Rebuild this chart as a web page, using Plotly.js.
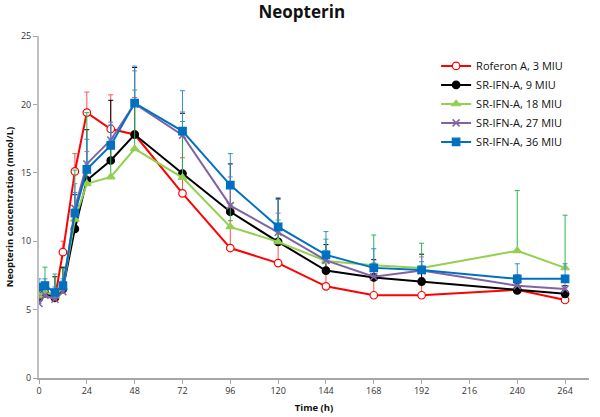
<!DOCTYPE html>
<html>
<head>
<meta charset="utf-8">
<script src="https://cdn.plot.ly/plotly-3.0.1.min.js"></script>
<style>html,body{margin:0;padding:0;background:#fff;}#chart{width:600px;height:417px;}</style>
</head>
<body>
<div id="chart"></div>
<script>
const times = [0, 3, 8, 12, 18, 24, 36, 48, 72, 96, 120, 144, 168, 192, 240, 264];
const seriesNames = ["Roferon A, 3 MIU", "SR-IFN-A, 9 MIU", "SR-IFN-A, 18 MIU", "SR-IFN-A, 27 MIU", "SR-IFN-A, 36 MIU"];

const roferon3 = [6.0, 6.2, 5.85, 9.2, 15.1, 19.4, 18.2, 17.8, 13.5, 9.5, 8.4, 6.7, 6.05, 6.05, 6.45, 5.7];
const sr9 = [5.9, 6.2, 5.9, 6.5, 10.9, 14.45, 15.9, 17.8, 14.95, 12.15, 9.95, 7.85, 7.35, 7.05, 6.4, 6.15];
const sr18 = [6.0, 6.3, 6.0, 6.6, 11.6, 14.2, 14.7, 16.75, 14.65, 11.05, 9.95, 8.55, 8.25, 8.05, 9.3, 8.05];
const sr27 = [5.45, 6.05, 5.75, 6.3, 12.4, 15.65, 17.4, 20.05, 17.75, 12.6, 10.65, 8.6, 7.4, 7.85, 6.75, 6.5];
const sr36 = [6.65, 6.75, 6.25, 6.75, 12.05, 15.25, 17.0, 20.1, 18.05, 14.1, 11.05, 9.0, 8.05, 7.9, 7.25, 7.25];

const roferon3Err = [0.4, 0.5, 0.6, 0.8, 1.3, 1.5, 2.5, 2.7, 2.6, 2.0, 1.6, 1.0, 1.3, 1.3, 1.1, 0.6];
const sr9Err = [0.5, 0.8, 1.5, 1.6, 2.5, 3.7, 4.4, 4.9, 4.4, 3.5, 3.2, 1.9, 1.3, 2.0, 0.5, 0.6];
const sr18Err = [0.8, 1.8, 1.6, 1.4, 3.6, 5.2, 2.5, 4.3, 4.1, 1.7, 1.6, 1.6, 2.2, 1.8, 4.4, 3.85];
const sr27Err = [0.6, 0.6, 0.6, 0.8, 1.8, 0.9, 1.3, 2.4, 1.7, 2.1, 1.4, 0.7, 1.0, 1.0, 0.5, 1.0];
const sr36Err = [0.6, 0.5, 0.4, 0.5, 1.5, 2.2, 1.5, 2.7, 2.95, 2.3, 2.0, 1.7, 1.4, 0.6, 1.1, 1.1];

const xTicks = [0, 24, 48, 72, 96, 120, 144, 168, 192, 216, 240, 264];
const yTicks = [0, 5, 10, 15, 20, 25];

const values = [roferon3, sr9, sr18, sr27, sr36];
const errs = [roferon3Err, sr9Err, sr18Err, sr27Err, sr36Err];
const lineColors = ["#ff0000", "#000000", "#92d050", "#8064a2", "#0070c0"];
const errColors = ["#ff5050", "#000000", "#2bb35a", "#8f7bbf", "#2f8fd8"];
const symbols = ["circle", "circle", "triangle-up", "x-thin-open", "square"];
const fills = ["#ffffff", "#000000", "#92d050", "#8064a2", "#0070c0"];
const sizes = [7.5, 7.5, 7.5, 7, 7.5];

const traces = values.map((v, i) => ({
  x: times, y: v, name: seriesNames[i], type: "scatter", mode: "lines+markers",
  line: {color: lineColors[i], width: 2},
  marker: {symbol: symbols[i], size: sizes[i], color: fills[i],
           line: {color: lineColors[i], width: i === 3 ? 1.5 : 1.2}},
  error_y: {type: "data", symmetric: false, array: errs[i], arrayminus: v.map(() => 0),
            color: errColors[i], thickness: 1, width: 2.5}
}));

const font = "'Open Sans', 'Noto Sans', sans-serif";
const layout = {
  width: 600, height: 417,
  margin: {l: 39, r: 11, t: 36, b: 39},
  paper_bgcolor: "#ffffff", plot_bgcolor: "#ffffff",
  font: {family: font, color: "#222", size: 9},
  title: {text: "<b>Neopterin</b>", font: {family: font, size: 17, color: "#111"}, x: 0.503, xanchor: "center", y: 0.97, yanchor: "middle"},
  xaxis: {range: [0, 276], tickvals: xTicks, ticktext: xTicks.map(String),
          showgrid: false, zeroline: false, showline: true, linecolor: "#a6a6a6", linewidth: 1.5,
          ticks: "outside", ticklen: 4, tickcolor: "#a6a6a6", tickfont: {size: 9, color: "#333"},
          title: {text: "<b>Time (h)</b>", font: {size: 9.5, color: "#111"}, standoff: 8}},
  yaxis: {range: [0, 25], tickvals: yTicks, ticktext: yTicks.map(String),
          showgrid: false, zeroline: false, showline: true, linecolor: "#bfbfbf", linewidth: 2,
          ticks: "outside", ticklen: 4, tickcolor: "#a6a6a6", tickfont: {size: 9, color: "#333"},
          title: {text: "<b>Neopterin concentration (nmol/L)</b>", font: {size: 9.5, color: "#111"}, standoff: 6}},
  legend: {x: 0.722, y: 0.955, xanchor: "left", yanchor: "top", bgcolor: "rgba(0,0,0,0)",
           font: {size: 11, color: "#111"}, itemwidth: 30, tracegroupgap: 0},
  showlegend: true
};

Plotly.newPlot("chart", traces, layout, {staticPlot: true, displayModeBar: false});
</script>
</body>
</html>
